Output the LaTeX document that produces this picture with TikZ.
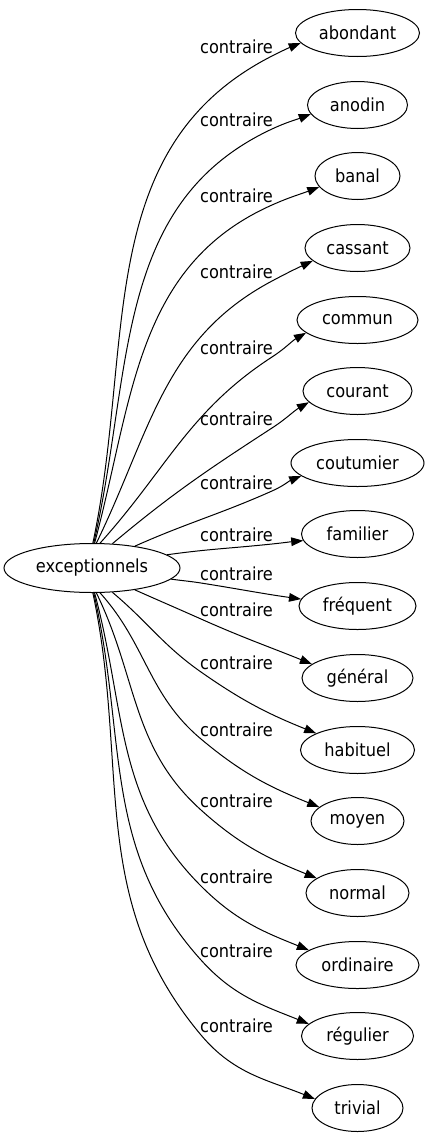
\documentclass[tikz,border=0pt]{standalone}
\usepackage{fontspec}
\setmainfont{DejaVu Sans}[FakeStretch=0.9]
\usetikzlibrary{shapes.geometric,arrows.meta}
\begin{document}
\begin{tikzpicture}[x=0.75pt,y=0.75pt,
  every node/.style={font=\fontsize{13.5pt}{16pt}\selectfont},
  src/.style={draw, ellipse, inner sep=0pt, minimum width=132pt, minimum height=36.75pt, line width=0.75pt},
  tgt/.style={draw, ellipse, inner sep=0pt, minimum height=35.25pt, line width=0.75pt},
  lbl/.style={inner sep=0pt},
  conn/.style={line width=0.75pt, -{Triangle[length=9pt,width=6.5pt]}}]
\useasboundingbox (0,0) rectangle (430,-1139);

\node[src] (s) at (92,-568) {exceptionnels};

\node[tgt, minimum width=93pt]    (t0)  at (357.5,-33)   {abondant};
\node[tgt, minimum width=75pt]    (t1)  at (357.5,-105)  {anodin};
\node[tgt, minimum width=63.75pt] (t2)  at (357.5,-176)  {banal};
\node[tgt, minimum width=78.75pt] (t3)  at (357.5,-248)  {cassant};
\node[tgt, minimum width=90.75pt] (t4)  at (357.5,-320)  {commun};
\node[tgt, minimum width=81.75pt] (t5)  at (357.5,-391)  {courant};
\node[tgt, minimum width=99.75pt] (t6)  at (357.5,-463)  {coutumier};
\node[tgt, minimum width=84pt]    (t7)  at (357.5,-534)  {familier};
\node[tgt, minimum width=87.75pt] (t8)  at (357.5,-606)  {fréquent};
\node[tgt, minimum width=83.25pt] (t9)  at (357.5,-678)  {général};
\node[tgt, minimum width=85.5pt]  (t10) at (357.5,-750)  {habituel};
\node[tgt, minimum width=69.75pt] (t11) at (357.5,-821)  {moyen};
\node[tgt, minimum width=77.25pt] (t12) at (357.5,-893)  {normal};
\node[tgt, minimum width=92.25pt] (t13) at (357.5,-965)  {ordinaire};
\node[tgt, minimum width=84pt]    (t14) at (357.5,-1036) {régulier};
\node[tgt, minimum width=68.25pt] (t15) at (357.5,-1108) {trivial};

\node[lbl] (l0)  at (236.5,-47)   {contraire};
\node[lbl] (l1)  at (236.5,-120)  {contraire};
\node[lbl] (l2)  at (236.5,-196)  {contraire};
\node[lbl] (l3)  at (236.5,-272)  {contraire};
\node[lbl] (l4)  at (236.5,-348)  {contraire};
\node[lbl] (l5)  at (236.5,-419)  {contraire};
\node[lbl] (l6)  at (236.5,-483)  {contraire};
\node[lbl] (l7)  at (236.5,-535)  {contraire};
\node[lbl] (l8)  at (236.5,-574)  {contraire};
\node[lbl] (l9)  at (236.5,-610)  {contraire};
\node[lbl] (l10) at (236.5,-663)  {contraire};
\node[lbl] (l11) at (236.5,-730)  {contraire};
\node[lbl] (l12) at (236.5,-801)  {contraire};
\node[lbl] (l13) at (236.5,-877)  {contraire};
\node[lbl] (l14) at (236.5,-951)  {contraire};
\node[lbl] (l15) at (236.5,-1026) {contraire};

\coordinate (p0)  at (272,-56);
\coordinate (p1)  at (272,-129);
\coordinate (p2)  at (272,-205);
\coordinate (p3)  at (272,-281);
\coordinate (p4)  at (272,-357);
\coordinate (p5)  at (272,-428);
\coordinate (p6)  at (272,-491);
\coordinate (p7)  at (272,-544);
\coordinate (p8)  at (201,-583);
\coordinate (p9)  at (201,-619);
\coordinate (p10) at (201,-672);
\coordinate (p11) at (201,-739);
\coordinate (p12) at (201,-810);
\coordinate (p13) at (201,-886);
\coordinate (p14) at (201,-960);
\coordinate (p15) at (201,-1035);

\draw[conn] (s.88) to[out=78,in=207] (p0) to[out=27,in=202] (t0.190);
\draw[conn] (s.86) to[out=77,in=205] (p1) to[out=25,in=201] (t1.191);
\draw[conn] (s.84) to[out=75,in=204] (p2) to[out=24,in=201] (t2.196);
\draw[conn] (s.80) to[out=64,in=208] (p3) to[out=28,in=205] (t3.196);
\draw[conn] (s.72) to[out=48,in=213] (p4) to[out=33,in=210] (t4.194);
\draw[conn] (s.50) to[out=40,in=213] (p5) to[out=33,in=210] (t5.193);
\draw[conn] (s.27) to[out=24,in=204] (p6) to[out=24,in=202] (t6.193);
\draw[conn] (s.10) to[out=8,in=186] (p7) to[out=6,in=185] (t7.187);
\draw[conn] (s.-8) to[out=-8,in=171] (p8) to[out=-9,in=172] (t8.173);
\draw[conn] (s.-27) to[out=-24,in=156] (p9) to[out=-24,in=158] (t9.163);
\draw[conn] (s.-50) to[out=-40,in=145] (p10) to[out=-35,in=158] (t10.158);
\draw[conn] (s.-72) to[out=-48,in=140] (p11) to[out=-40,in=158] (t11.160);
\draw[conn] (s.-80) to[out=-64,in=138] (p12) to[out=-42,in=158] (t12.160);
\draw[conn] (s.-84) to[out=-75,in=135] (p13) to[out=-45,in=158] (t13.163);
\draw[conn] (s.-86) to[out=-77,in=132] (p14) to[out=-48,in=158] (t14.166);
\draw[conn] (s.-88) to[out=-78,in=130] (p15) to[out=-50,in=158] (t15.168);
\end{tikzpicture}
\end{document}
